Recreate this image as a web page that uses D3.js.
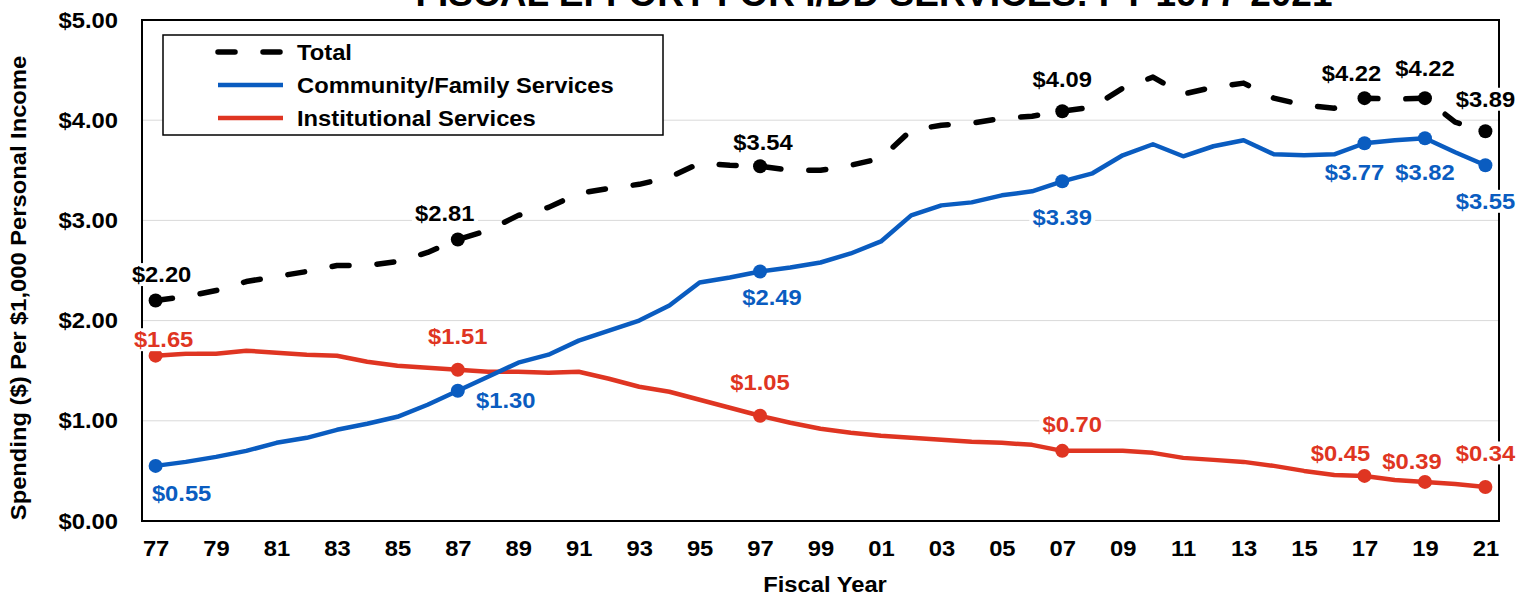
<!DOCTYPE html>
<html>
<head>
<meta charset="utf-8">
<script src="https://cdn.jsdelivr.net/npm/d3@7"></script>
<style>
  body { margin: 0; background: #fff; }
  text { font-family: "Liberation Sans", Arial, sans-serif; font-weight: bold; }
</style>
</head>
<body>
<div></div>
<script>
// datos del grafico
var years = d3.range(1977, 2022)
var tickLabels = ['77','79','81','83','85','87','89','91','93','95','97','99','01','03','05','07','09','11','13','15','17','19','21']
var yTicks = [0, 1, 2, 3, 4, 5]

var total = [2.20,2.24,2.30,2.39,2.44,2.49,2.55,2.55,2.59,2.68,
             2.81,2.90,3.05,3.13,3.27,3.32,3.36,3.43,3.57,3.55,
             3.54,3.50,3.50,3.55,3.62,3.90,3.95,3.97,4.02,4.04,
             4.09,4.13,4.32,4.43,4.26,4.33,4.37,4.22,4.15,4.12,
             4.22,4.21,4.22,3.98,3.89]
var community = [0.55,0.59,0.64,0.70,0.78,0.83,0.91,0.97,1.04,1.16,
                 1.30,1.44,1.58,1.66,1.80,1.90,2.00,2.15,2.38,2.43,
                 2.49,2.53,2.58,2.67,2.79,3.05,3.15,3.18,3.25,3.29,
                 3.39,3.47,3.65,3.76,3.64,3.74,3.80,3.66,3.65,3.66,
                 3.77,3.80,3.82,3.68,3.55]
var institutional = [1.65,1.67,1.67,1.70,1.68,1.66,1.65,1.59,1.55,1.53,
                     1.51,1.49,1.49,1.48,1.49,1.42,1.34,1.29,1.21,1.13,
                     1.05,0.98,0.92,0.88,0.85,0.83,0.81,0.79,0.78,0.76,
                     0.70,0.70,0.70,0.68,0.63,0.61,0.59,0.55,0.50,0.46,
                     0.45,0.41,0.39,0.37,0.34]
var markedYears = [1977, 1987, 1997, 2007, 2017, 2019, 2021]

var seriesNames = ['Total', 'Community/Family Services', 'Institutional Services']

// posicion de las etiquetas (px respecto al punto)
var offTotal = [[6,-26],[-13,-26],[3,-24],[0,-32],[-13,-25],[0,-30],[0,-32]]
var offComm  = [[26,27],[48,10],[12,26],[0,36],[-10,29],[0,34],[0,36]]
var offInst  = [[8,-16],[0,-33],[0,-33],[10,-27],[-24,-23],[-13,-21],[0,-34]]

var width = 1533
var height = 597
var plot = {left: 142, right: 1499, top: 20, bottom: 521}
var blue = '#0A5CC0'
var red = '#DF3522'
var fs = '22px'      // tamaño de letra
var sx = 1.08        // la imagen original esta algo estirada en horizontal

var svg = d3.select('div')
    .append('svg')
    .attr('width', width)
    .attr('height', height)

// helper para texto estirado
function addText(parent, x, y, str, size){
    return parent.append('text')
        .attr('transform', 'translate(' + x + ',' + y + ') scale(' + sx + ',1)')
        .attr('font-size', size || fs)
        .text(str)
}

// escalas
var scaleX = d3.scalePoint()
    .domain(years)
    .range([plot.left, plot.right])
    .padding(0.45)

var scaleY = d3.scaleLinear()
    .domain([0, 5])
    .range([plot.bottom, plot.top])

// titulo (cortado arriba como en la imagen)
svg.append('text')
    .attr('x', 874)
    .attr('y', 6)
    .attr('text-anchor', 'middle')
    .attr('font-size', '37px')
    .text('FISCAL EFFORT FOR I/DD SERVICES: FY 1977-2021')

// rejilla
svg.append('g')
    .selectAll('line')
    .data(yTicks.filter(function(d){ return d > 0 && d < 5 }))
    .enter()
    .append('line')
    .attr('x1', plot.left)
    .attr('x2', plot.right)
    .attr('y1', function(d){ return scaleY(d) })
    .attr('y2', function(d){ return scaleY(d) })
    .attr('stroke', '#D9D9D9')
    .attr('stroke-width', 1)

// marco del area
svg.append('rect')
    .attr('x', plot.left)
    .attr('y', plot.top)
    .attr('width', plot.right - plot.left)
    .attr('height', plot.bottom - plot.top)
    .attr('fill', 'none')
    .attr('stroke', '#000')
    .attr('stroke-width', 2)

// ejes
var yaxis = d3.axisLeft(scaleY)
    .tickValues(yTicks)
    .tickSize(0)
    .tickPadding(0)
    .tickFormat(d3.format('$.2f'))
var gy = svg.append('g')
    .attr('transform', 'translate(118,0)')
    .call(yaxis)
gy.select('.domain').remove()
gy.selectAll('text')
    .attr('font-size', fs)
    .attr('font-family', '"Liberation Sans", Arial, sans-serif')
    .attr('fill', '#000')
    .attr('transform', 'scale(' + sx + ',1)')

var xaxis = d3.axisBottom(scaleX)
    .tickValues(years.filter(function(d){ return d % 2 == 1 }))
    .tickSize(0)
    .tickPadding(0)
    .tickFormat(function(d, i){ return tickLabels[i] })
var gx = svg.append('g')
    .attr('transform', 'translate(0,' + 548 + ')')
    .call(xaxis)
gx.select('.domain').remove()
gx.selectAll('text')
    .attr('dy', '0.35em')
    .attr('font-size', fs)
    .attr('font-family', '"Liberation Sans", Arial, sans-serif')
    .attr('fill', '#000')
    .attr('transform', 'scale(' + sx + ',1)')

// titulos de ejes
addText(svg, 825, 592, 'Fiscal Year').attr('text-anchor', 'middle')

svg.append('text')
    .attr('transform', 'translate(26,288) rotate(-90) scale(' + sx + ',1)')
    .attr('text-anchor', 'middle')
    .attr('font-size', fs)
    .text('Spending ($) Per $1,000 Personal Income')

// lineas
var line = d3.line()
    .x(function(d, i){ return scaleX(years[i]) })
    .y(function(d){ return scaleY(d) })

var series = [
    {name: seriesNames[0], values: total, color: '#000', dash: '17,28', width: 5.5, off: offTotal},
    {name: seriesNames[1], values: community, color: blue, dash: null, width: 4.5, off: offComm},
    {name: seriesNames[2], values: institutional, color: red, dash: null, width: 4.5, off: offInst}
]

// primero las lineas de color, luego el total
var drawOrder = [2, 1, 0]
drawOrder.forEach(function(k){
    var s = series[k]
    svg.append('path')
        .datum(s.values)
        .attr('d', line)
        .attr('fill', 'none')
        .attr('stroke', s.color)
        .attr('stroke-width', s.width)
        .attr('stroke-linejoin', 'round')
        .attr('stroke-linecap', s.dash ? 'round' : 'butt')
        .attr('stroke-dasharray', s.dash)
})

// puntos marcados
series.forEach(function(s){
    svg.append('g')
        .selectAll('circle')
        .data(markedYears)
        .enter()
        .append('circle')
        .attr('cx', function(d){ return scaleX(d) })
        .attr('cy', function(d){ return scaleY(s.values[years.indexOf(d)]) })
        .attr('r', 7)
        .attr('fill', s.color)
})

// etiquetas con fondo blanco
var fmt = d3.format('$.2f')
series.forEach(function(s){
    markedYears.forEach(function(yr, i){
        var v = s.values[years.indexOf(yr)]
        var cx = scaleX(yr) + s.off[i][0]
        var cy = scaleY(v) + s.off[i][1]
        var g = svg.append('g')
            .attr('transform', 'translate(' + cx + ',' + cy + ') scale(' + sx + ',1)')
        var bg = g.append('rect').attr('fill', '#fff')
        var t = g.append('text')
            .attr('dy', '0.35em')
            .attr('text-anchor', 'middle')
            .attr('font-size', fs)
            .attr('fill', s.color)
            .text(fmt(v))
        var bb = t.node().getBBox()
        bg.attr('x', bb.x - 3)
            .attr('y', bb.y + 1)
            .attr('width', bb.width + 6)
            .attr('height', bb.height - 2)
    })
})

// leyenda
var legend = svg.append('g')
legend.append('rect')
    .attr('x', 163)
    .attr('y', 35)
    .attr('width', 500)
    .attr('height', 100)
    .attr('fill', '#fff')
    .attr('stroke', '#000')
    .attr('stroke-width', 1.5)

series.forEach(function(s, i){
    var ly = 52 + i * 33
    legend.append('line')
        .attr('x1', 218)
        .attr('x2', 283)
        .attr('y1', ly)
        .attr('y2', ly)
        .attr('stroke', s.color)
        .attr('stroke-width', s.width)
        .attr('stroke-linecap', s.dash ? 'round' : 'butt')
        .attr('stroke-dasharray', s.dash)
    addText(legend, 297, ly, s.name).attr('dy', '0.35em')
})
</script>
</body>
</html>
